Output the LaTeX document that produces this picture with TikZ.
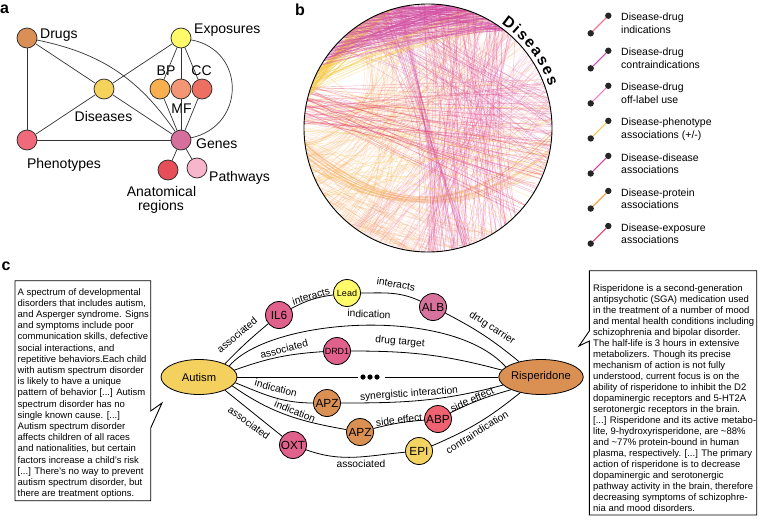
\documentclass[tikz,border=0pt]{standalone}
\usepackage{fontspec}
\setmainfont{Liberation Sans}
\usetikzlibrary{shapes.geometric,decorations.text}
\definecolor{cdrug}{HTML}{D98F55}
\definecolor{cexpo}{HTML}{FFFA6A}
\definecolor{cbp}{HTML}{F7AF50}
\definecolor{cmf}{HTML}{F29676}
\definecolor{ccc}{HTML}{EC6F62}
\definecolor{cdis}{HTML}{F4D25C}
\definecolor{cphen}{HTML}{EF6B7B}
\definecolor{cgene}{HTML}{D56F9C}
\definecolor{canat}{HTML}{E64E58}
\definecolor{cpath}{HTML}{F8B6CD}
\definecolor{cmag}{HTML}{D048A0}
\definecolor{cred}{HTML}{E03C6E}
\definecolor{cyel}{HTML}{F6C640}
\definecolor{cora}{HTML}{F4A55A}
\definecolor{clora}{HTML}{F7BE8C}
\definecolor{cpink}{HTML}{E4509A}
\definecolor{clpink}{HTML}{EE8CC4}
\definecolor{lg1}{HTML}{F07894}
\definecolor{lg2}{HTML}{D548B0}
\definecolor{lg3}{HTML}{F07CC2}
\definecolor{lg4}{HTML}{F8C64E}
\definecolor{lg5}{HTML}{E6389A}
\definecolor{lg6}{HTML}{F4A648}
\definecolor{lg7}{HTML}{E63C68}
\definecolor{cil}{HTML}{E0628C}
\definecolor{calb}{HTML}{D7729C}
\definecolor{capz}{HTML}{DA9052}
\definecolor{cabp}{HTML}{EE6272}
\definecolor{cepi}{HTML}{F3D462}
\definecolor{caut}{HTML}{F4D05E}
\newcommand\legitem[4]{%
  \node[ldot] (lu#1) at (608.3,{15.7+35.05*#1}) {};
  \node[ldot] (ll#1) at (590.7,{33.3+35.05*#1}) {};
  \draw[#2, line width=1.1pt] (ll#1) -- (lu#1);
  \node[legtext] (lt#1) at (621,{13+35.05*#1}) {#3\\#4};
}
\newcommand\chords[6]{% count, a0, da, b0, db, style
  \foreach \i in {1,...,#1}{
    \pgfmathsetmacro\a{#2+#3*rnd}\pgfmathsetmacro\b{#4+#5*rnd}
    \draw[#6] (\a:124) -- (\b:124);}}
\begin{document}
\begin{tikzpicture}[x=1pt,y=-1pt,
  acirc/.style={circle, draw=black!85, line width=0.7pt, minimum size=20pt, inner sep=0pt},
  alab/.style={font=\fontsize{14}{16}\selectfont, inner sep=0pt},
  aedge/.style={draw=black!80, line width=0.7pt},
  plab/.style={font=\fontsize{16}{18}\selectfont\bfseries, inner sep=0pt, anchor=base west},
  ldot/.style={circle, fill=black!85, minimum size=6.4pt, inner sep=0pt},
  legtext/.style={anchor=north west, align=left, inner sep=0pt, font=\fontsize{10.5}{12.7}\selectfont},
  ccirc/.style={circle, draw=black, line width=0.8pt, minimum size=27pt, inner sep=0pt, font=\fontsize{11.8}{12}\selectfont},
  cell/.style={ellipse, draw=black, line width=0.8pt, minimum width=76pt, minimum height=35pt, inner sep=0pt, font=\fontsize{11.2}{12}\selectfont},
  cedge/.style={draw=black, line width=0.8pt},
  elab/.style={inner sep=0pt, font=\fontsize{10.2}{11}\selectfont},
  tbox/.style={anchor=north west, align=left, inner sep=0pt, font=\fontsize{9.5}{11.2}\selectfont},
  ch/.style={line width=0.4pt}
]
\useasboundingbox (0,0) rectangle (760,525);

% ---------------- panel a ----------------
\node[plab] (pa) at (0,13) {a};
\node[acirc, fill=cdrug] (drugs) at (27,38) {};
\node[acirc, fill=cexpo] (expo) at (181,38) {};
\node[acirc, fill=cbp] (bp) at (160,89) {};
\node[acirc, fill=cmf] (mf) at (181,89) {};
\node[acirc, fill=ccc] (cc) at (202,89) {};
\node[acirc, fill=cdis] (dis) at (104,89) {};
\node[acirc, fill=cphen] (phen) at (27,140) {};
\node[acirc, fill=cgene] (genes) at (181,140) {};
\node[acirc, fill=canat] (anat) at (168,170) {};
\node[acirc, fill=cpath] (path) at (197,168) {};

\node[alab, anchor=base west] (ldrugs) at (40,38) {Drugs};
\node[alab, anchor=base west] (lexpo) at (194,33) {Exposures};
\node[alab, anchor=base] (lbp) at (166,75) {BP};
\node[alab, anchor=base] (lcc) at (201.5,75) {CC};
\node[alab, anchor=base] (lmf) at (181.5,113) {MF};
\node[alab, anchor=base] (ldis) at (103.5,121.5) {Diseases};
\node[alab, anchor=base] (lphen) at (64,168) {Phenotypes};
\node[alab, anchor=base west] (lgenes) at (196,148) {Genes};
\node[alab, anchor=base west] (lpath) at (209,181.5) {Pathways};
\node[alab, anchor=base] (lanat1) at (161.5,196) {Anatomical};
\node[alab, anchor=base] (lanat2) at (161,210) {regions};

\draw[aedge] (drugs) -- (phen);
\draw[aedge] (drugs) -- (dis);
\draw[aedge] (drugs) to[bend left=22] (genes);
\draw[aedge] (expo) -- (dis);
\draw[aedge] (expo) -- (bp);
\draw[aedge] (expo) -- (mf);
\draw[aedge] (expo) -- (cc);
\draw[aedge] (expo) .. controls (246,50) and (246,126) .. (genes);
\draw[aedge] (dis) -- (phen);
\draw[aedge] (dis) -- (genes);
\draw[aedge] (phen) -- (genes);
\draw[aedge] (bp) -- (genes);
\draw[aedge] (mf) -- (genes);
\draw[aedge] (cc) -- (genes);
\draw[aedge] (genes) -- (anat);
\draw[aedge] (genes) -- (path);

% ---------------- panel b ----------------
\node[plab] (pb) at (295,15) {b};
\begin{scope}[shift={(428,128)}, y=1pt]
\pgfmathsetseed{7}
\chords{70}{185}{80}{0}{70}{ch, clora, opacity=0.25}
\foreach \i in {1,...,90}{
  \pgfmathsetmacro\a{172+78*rnd}\pgfmathsetmacro\b{40+90*rnd}
  \draw[ch, cora, opacity=0.28] (\a:124) .. controls (\a:70) and (\b:70) .. (\b:124);}
\chords{55}{180}{70}{255}{50}{ch, cora, opacity=0.28}
\foreach \i in {1,...,25}{
  \pgfmathsetmacro\a{185+15*rnd}\pgfmathsetmacro\b{-20+20*rnd}
  \draw[ch, cora, opacity=0.35] (\a:124) .. controls (245:97) and (295:97) .. (\b:124);}
\chords{40}{10}{50}{230}{70}{ch, clpink, opacity=0.35}
\chords{70}{45}{50}{265}{50}{ch, cpink, opacity=0.4}
\foreach \i in {1,...,25}{
  \pgfmathsetmacro\a{100+20*rnd}\pgfmathsetmacro\b{270+20*rnd}
  \draw[ch, cmag, opacity=0.35] (\a:124) .. controls (\a:40) and (\b:40) .. (\b:124);}
\chords{30}{140}{80}{-60}{90}{ch, cyel, opacity=0.45}
\chords{55}{160}{18}{-45}{70}{ch, cred, opacity=0.38}
\chords{40}{100}{40}{-20}{40}{ch, cmag, opacity=0.3}
\chords{40}{150}{16}{100}{30}{ch, cyel, opacity=0.55}
\chords{20}{150}{16}{50}{25}{ch, cyel, opacity=0.45}
\chords{170}{100}{50}{50}{35}{ch, cmag, opacity=0.42}
\draw[line width=0.9pt] (0,0) circle[radius=124];
\path[decorate, decoration={text along path, text align=fit to path,
  text={|\fontsize{15.5}{15.5}\selectfont\bfseries|Diseases}}]
  (55:128) arc[start angle=55, end angle=19, radius=128];
\end{scope}

% legend
\legitem{0}{lg1}{Disease-drug}{indications}
\legitem{1}{lg2}{Disease-drug}{contraindications}
\legitem{2}{lg3}{Disease-drug}{off-label use}
\legitem{3}{lg4}{Disease-phenotype}{associations (+/-)}
\legitem{4}{lg5}{Disease-disease}{associations}
\legitem{5}{lg6}{Disease-protein}{associations}
\legitem{6}{lg7}{Disease-exposure}{associations}

% ---------------- panel c ----------------
\node[plab] (pc) at (1.5,270) {c};

\draw[line width=0.9pt] (15,280.7) -- (150.7,280.7) -- (150.7,411) -- (162,403) -- (150.7,428) -- (150.7,500.7) -- (15,500.7) -- cycle;
\node[tbox] (ltext) at (17.5,288) {A spectrum of developmental\\disorders that includes autism,\\and Asperger syndrome. Signs\\and symptoms include poor\\communication skills, defective\\social interactions, and\\repetitive behaviors.Each child\\with autism spectrum disorder\\is likely to have a unique\\pattern of behavior [...] Autism\\spectrum disorder has no\\single known cause. [...]\\Autism spectrum disorder\\affects children of all races\\and nationalities, but certain\\factors increase a child's risk\\{[...]} There's no way to prevent\\autism spectrum disorder, but\\there are treatment options.};

\draw[line width=0.9pt] (589.3,270.7) -- (756.7,270.7) -- (756.7,515) -- (589.3,515) -- (589.3,341) -- (579,346) -- (589.3,331) -- cycle;
\node[tbox, font=\fontsize{9.5}{11}\selectfont] (rtext) at (593,284) {Risperidone is a second-generation\\antipsychotic (SGA) medication used\\in the treatment of a number of mood\\and mental health conditions including\\schizophrenia and bipolar disorder.\\The half-life is 3 hours in extensive\\metabolizers. Though its precise\\mechanism of action is not fully\\understood, current focus is on the\\ability of risperidone to inhibit the D2\\dopaminergic receptors and 5-HT2A\\serotonergic receptors in the brain.\\{[...]} Risperidone and its active metabo-\\lite, 9-hydroxyrisperidone, are \textasciitilde88\%\\and \textasciitilde77\% protein-bound in human\\plasma, respectively. [...] The primary\\action of risperidone is to decrease\\dopaminergic and serotonergic\\pathway activity in the brain, therefore\\decreasing symptoms of schizophre-\\nia and mood disorders.};

\node[cell, fill=caut] (autism) at (199,377) {Autism};
\node[cell, fill=capz] (ris) at (541,377) {Risperidone};
\node[ccirc, fill=cil] (il6) at (279,315) {IL6};
\node[ccirc, fill=cexpo, font=\fontsize{9}{10}\selectfont] (lead) at (347,293) {Lead};
\node[ccirc, fill=calb] (alb) at (433,307) {ALB};
\node[ccirc, fill=cil, font=\fontsize{9}{10}\selectfont] (drd1) at (337,351) {DRD1};
\node[ccirc, fill=capz] (apz1) at (327,403) {APZ};
\node[ccirc, fill=capz] (apz2) at (360,432) {APZ};
\node[ccirc, fill=cabp] (abp) at (438,419) {ABP};
\node[ccirc, fill=cil] (oxt) at (293,445) {OXT};
\node[ccirc, fill=cepi] (epi) at (419,451) {EPI};
\node[inner sep=0pt, minimum width=27pt, minimum height=6pt] (dots) at (371.5,377) {};
\fill (363,377) circle[radius=2.6] (370,377) circle[radius=2.6] (377,377) circle[radius=2.6];

\draw[cedge] (autism.27) to[bend left=3] (il6);
\draw[cedge] (il6) to[bend left=10] (lead);
\draw[cedge] (lead) to[out=0,in=155] (alb);
\draw[cedge] (alb) to[bend left=6] (ris.145);
\draw[cedge] (autism.20) .. controls (270,318) and (450,305) .. (ris.164);
\draw[cedge] (autism.11) to[bend left=8] (drd1);
\draw[cedge] (drd1) to[out=0,in=165] (ris.170);
\draw[cedge] (autism) -- (dots);
\draw[cedge] (dots) -- (ris);
\draw[cedge] (autism.-9) to[out=-22,in=180] (apz1);
\draw[cedge] (apz1) to[out=0,in=195] (ris.192);
\draw[cedge] (autism.-15) to[out=-35,in=170] (apz2);
\draw[cedge] (apz2) to[bend left=5] (abp);
\draw[cedge] (abp) to[bend left=5] (ris.203);
\draw[cedge] (autism.-27) -- (oxt);
\draw[cedge] (oxt) to[out=-20,in=185] (epi);
\draw[cedge] (epi) to[bend right=8] (ris.217);

\node[elab, rotate=40] (e1) at (237,335) {associated};
\node[elab, rotate=17] (e2) at (311,296) {interacts};
\node[elab, rotate=-10] (e3) at (396,284) {interacts};
\node[elab, rotate=-2] (e4) at (369,314) {indication};
\node[elab, rotate=-33] (e5) at (492,328) {drug carrier};
\node[elab, rotate=15] (e6) at (284,349) {associated};
\node[elab, rotate=-5] (e7) at (400,342) {drug target};
\node[elab, rotate=-15] (e8) at (276,388) {indication};
\node[elab, rotate=4] (e9) at (409,394) {synergistic interaction};
\node[elab, rotate=-22] (e10) at (295,411) {indication};
\node[elab, rotate=7] (e11) at (399,420) {side effect};
\node[elab, rotate=24] (e12) at (472,399.5) {side effect};
\node[elab, rotate=-36] (e13) at (249,423) {associated};
\node[elab] (e14) at (361,464) {associated};
\node[elab, rotate=32] (e15) at (477,432) {contraindication};
\end{tikzpicture}
\end{document}
